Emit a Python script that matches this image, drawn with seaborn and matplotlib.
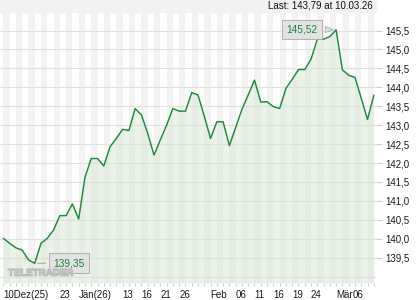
import matplotlib
matplotlib.use("Agg")
import matplotlib.pyplot as plt
import matplotlib.patheffects as pe
import matplotlib.transforms as mtrans
from matplotlib.patches import Rectangle
import numpy as np
import pandas as pd
import seaborn as sns

# ---------------- data ----------------
dates = [
    "12-10", "12-11", "12-12", "12-15", "12-16", "12-17", "12-18", "12-19", "12-22", "12-23",
    "12-29", "12-30", "01-02", "01-05", "01-06", "01-07", "01-08", "01-09", "01-12", "01-13",
    "01-14", "01-15", "01-16", "01-19", "01-20", "01-21", "01-22", "01-23", "01-26", "01-27",
    "01-28", "01-29", "01-30", "02-02", "02-03", "02-04", "02-05", "02-06", "02-09", "02-10",
    "02-11", "02-12", "02-13", "02-16", "02-17", "02-18", "02-19", "02-20", "02-23", "02-24",
    "02-25", "02-26", "02-27", "03-02", "03-03", "03-04", "03-05", "03-06", "03-09", "03-10",
]
prices = [
    140.01, 139.88, 139.76, 139.70, 139.44, 139.35, 139.88, 140.01, 140.23, 140.61,
    140.61, 140.92, 140.52, 141.62, 142.12, 142.12, 141.92, 142.43, 142.65, 142.89,
    142.86, 143.44, 143.27, 142.78, 142.21, 142.61, 143.00, 143.44, 143.37, 143.37,
    143.86, 143.80, 143.24, 142.65, 143.09, 143.09, 142.46, 142.94, 143.42, 143.80,
    144.19, 143.61, 143.62, 143.49, 143.44, 143.97, 144.21, 144.47, 144.47, 144.74,
    145.27, 145.27, 145.34, 145.52, 144.46, 144.32, 144.26, 143.71, 143.15, 143.79,
]
tick_dates = ["12-10", "12-23", "01-02", "01-13", "01-16", "01-21", "01-26",
              "02-02", "02-06", "02-11", "02-16", "02-19", "02-24", "03-02", "03-06"]
tick_labels = ["10Dez(25)", "23", "Jän(26)", "13", "16", "21", "26",
               "Feb", "06", "11", "16", "19", "24", "Mär", "06"]
grid_levels = [139.0, 139.5, 140.0, 140.5, 141.0, 141.5, 142.0, 142.5,
               143.0, 143.5, 144.0, 144.5, 145.0, 145.5]
y_tick_values = [139.5, 140.0, 140.5, 141.0, 141.5, 142.0, 142.5,
                 143.0, 143.5, 144.0, 144.5, 145.0, 145.5]
last_label = "Last: 143,79 at 10.03.26"
watermark = "TELETRADER"

def de(v, nd):
    return f"{v:.{nd}f}".replace(".", ",")

# ---------------- figure ----------------
sns.set_theme(style="white")
plt.rcParams["font.family"] = ["Liberation Sans", "DejaVu Sans"]

W, H = 420, 300
fig = plt.figure(figsize=(W / 100, H / 100), dpi=100)
fig.patch.set_facecolor("white")
ax = fig.add_axes([0, 17 / H, 376 / W, 271 / H])
ax.set_facecolor("white")

df = pd.DataFrame({"idx": np.arange(len(prices)), "price": prices})
ylo, yhi = 138.83, 145.99
xlo, xhi = -0.53, len(prices) - 0.65

# vertical day stripes
for i in range(-1, len(prices) + 1):
    if i % 2 == 0:
        ax.axvspan(i, i + 1, color="#f3f3f3", lw=0, zorder=0)

for v in grid_levels:
    ax.axhline(v, color="#e0e0e0", lw=0.8, zorder=1)

ax.fill_between(df["idx"], df["price"], ylo, color="#d7e7d4", alpha=0.5, lw=0, zorder=2)
sns.lineplot(data=df, x="idx", y="price", color="#1d8a3a", lw=1.05, ax=ax, zorder=4)

ax.set_xlim(xlo, xhi)
ax.set_ylim(ylo, yhi)
ax.set_xlabel("")
ax.set_ylabel("")
for s in ax.spines.values():
    s.set_visible(False)

# y axis on the right
ax.yaxis.tick_right()
ax.set_yticks(y_tick_values)
ax.set_yticklabels([de(v, 1) for v in y_tick_values])
ax.tick_params(axis="y", right=True, left=False, length=4.5, width=0.8, color="#cfcfcf",
               labelsize=7, pad=2, labelcolor="#1a1a1a")

# x axis
tick_pos = [dates.index(d) for d in tick_dates]
ax.set_xticks(tick_pos)
ax.set_xticklabels(tick_labels)
ax.set_xticks(df["idx"], minor=True)
ax.tick_params(axis="x", which="both", bottom=True, length=2, width=0.6, color="#c8c8c8",
               labelsize=7, pad=3, labelcolor="#1a1a1a")
xl = ax.get_xticklabels()
for lbl in xl:
    lbl.set_ha("left")
xl[-1].set_ha("right")
xl[-1].set_transform(xl[-1].get_transform() +
                     mtrans.ScaledTranslation(2.5 / 100, 0, fig.dpi_scale_trans))

# header band
fig.patches.append(Rectangle((0, 288 / H), 376 / W, 12 / H, transform=fig.transFigure,
                             color="#f2f2f2", zorder=0))
fig.text(373 / W, 294 / H, last_label, ha="right", va="center", fontsize=7, color="#111111")

# max / min callouts
imax = int(np.argmax(prices))
imin = int(np.argmin(prices))
ax.annotate(de(prices[imax], 2), xy=(imax, prices[imax]), xytext=(-24.5, 0.5),
            textcoords="offset points", ha="center", va="center", fontsize=7.3,
            color="#1a8235", zorder=6,
            bbox=dict(boxstyle="square,pad=0.45", fc="#e2e2e2", ec="#a8a8a8", lw=0.6),
            arrowprops=dict(arrowstyle="wedge,tail_width=0.6,shrink_factor=0.5",
                            fc="#e2e2e2", ec="#a8a8a8", lw=0.6))
ax.annotate(de(prices[imin], 2), xy=(imin, prices[imin]), xytext=(24.5, 0.2),
            textcoords="offset points", ha="center", va="center", fontsize=7.3,
            color="#1a8235", zorder=6,
            bbox=dict(boxstyle="square,pad=0.45", fc="#e2e2e2", ec="#a8a8a8", lw=0.6),
            arrowprops=dict(arrowstyle="-", color="#a8a8a8", lw=0.8))

# watermark: outline-only letters, low in the corner
ax.text(0.108, 0.038, watermark, transform=ax.transAxes, ha="center", va="center",
        fontsize=7, fontweight="bold", color="white", alpha=0.0, zorder=7,
        path_effects=[pe.Stroke(linewidth=0.9, foreground="#bdbdbd", alpha=1.0)])

fig.savefig("out.png", dpi=100)
